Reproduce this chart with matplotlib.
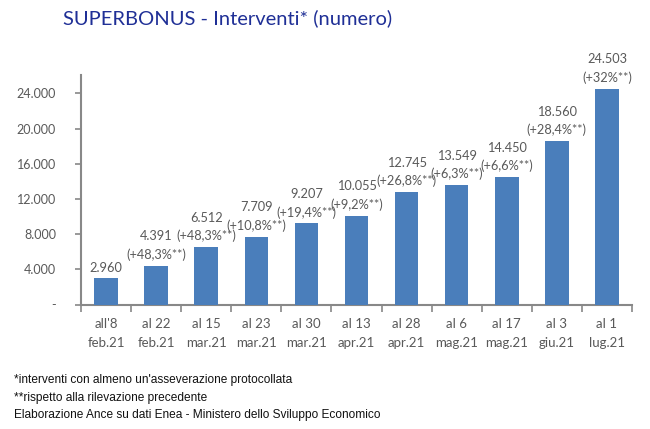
import matplotlib
matplotlib.use("Agg")
import matplotlib.pyplot as plt
import numpy as np

categories = ["all'8\nfeb.21", "al 22\nfeb.21", "al 15\nmar.21", "al 23\nmar.21", "al 30\nmar.21",
              "al 13\napr.21", "al 28\napr.21", "al 6\nmag.21", "al 17\nmag.21", "al 3\ngiu.21", "al 1\nlug.21"]
values = [2960, 4391, 6512, 7709, 9207, 10055, 12745, 13549, 14450, 18560, 24503]
value_labels = ["2.960", "4.391", "6.512", "7.709", "9.207", "10.055", "12.745", "13.549", "14.450", "18.560", "24.503"]
pct_labels = ["", "(+48,3%**)", "(+48,3%**)", "(+10,8%**)", "(+19,4%**)", "(+9,2%**)",
              "(+26,8%**)", "(+6,3%**)", "(+6,6%**)", "(+28,4%**)", "(+32%**)"]
yticks = [0, 4000, 8000, 12000, 16000, 20000, 24000]
ytick_labels = ["-", "4.000", "8.000", "12.000", "16.000", "20.000", "24.000"]

FONT = ["Lato", "DejaVu Sans"]
GREY = "#595959"

fig = plt.figure(figsize=(6.5, 4.29), dpi=100)
ax = fig.add_axes([81/650, 1-304.5/429, (632-81)/650, (304.5-75)/429])

x = np.arange(len(values))
ax.bar(x, values, width=0.47, color="#4a7ebb", zorder=3)
ax.set_xlim(-0.5, len(values)-0.5)
ax.set_ylim(0, 26080)

ax.set_yticks(yticks)
ax.set_yticklabels(ytick_labels, fontfamily=FONT, fontsize=9, color=GREY)
ax.set_xticks(x)
ax.set_xticklabels(categories, fontfamily=FONT, fontsize=9.5, color=GREY, linespacing=1.65)
ax.tick_params(axis="x", length=0, pad=10)
ax.set_xticks(np.arange(-0.5, len(values), 1), minor=True)
ax.tick_params(axis="x", which="minor", length=5, width=1.2, color="#888888", direction="out")
ax.tick_params(axis="y", length=4, width=1.2, color="#888888", pad=14)
for s in ["top", "right"]:
    ax.spines[s].set_visible(False)
for s in ["left", "bottom"]:
    ax.spines[s].set_color("#888888")
    ax.spines[s].set_linewidth(1.5)

for i, v in enumerate(values):
    if pct_labels[i]:
        ax.annotate(pct_labels[i], (x[i], v), xytext=(0, 3.5), textcoords="offset points",
                    ha="center", va="bottom", fontfamily=FONT, fontsize=9.2, color=GREY)
        ax.annotate(value_labels[i], (x[i], v), xytext=(0, 17), textcoords="offset points",
                    ha="center", va="bottom", fontfamily=FONT, fontsize=9.2, color=GREY)
    else:
        ax.annotate(value_labels[i], (x[i], v), xytext=(0, 3.5), textcoords="offset points",
                    ha="center", va="bottom", fontfamily=FONT, fontsize=9.2, color=GREY)

fig.text(63/650, 1-18/429, "SUPERBONUS - Interventi* (numero)", fontfamily=FONT, fontsize=14.5,
         color="#1f2f96", ha="left", va="center")

notes = ["*interventi con almeno un'asseverazione protocollata",
         "**rispetto alla rilevazione precedente",
         "Elaborazione Ance su dati Enea - Ministero dello Sviluppo Economico"]
for j, t in enumerate(notes):
    fig.text(14/650, 1-(380+17.5*j)/429, t, fontfamily=["Liberation Sans", "DejaVu Sans"],
             fontsize=8.6, color="#111111", ha="left", va="center")

fig.savefig("out.png", dpi=100)
